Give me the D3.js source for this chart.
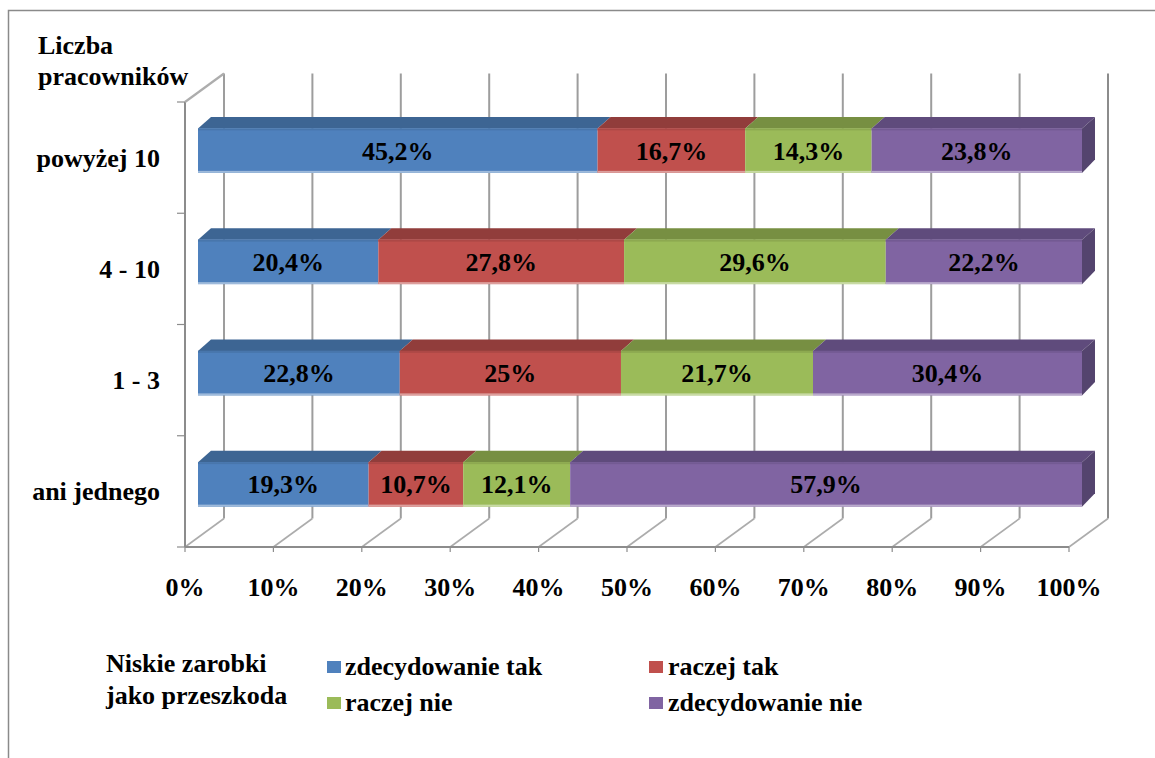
<!DOCTYPE html>
<html>
<head>
<meta charset="utf-8">
<script src="https://cdn.jsdelivr.net/npm/d3@7"></script>
</head>
<body style="margin:0">
<svg id="chart" width="1155" height="758"></svg>
<script>
// ---- data ----
const categories = ["powyżej 10", "4 - 10", "1 - 3", "ani jednego"];
const seriesNames = ["zdecydowanie tak", "raczej tak", "raczej nie", "zdecydowanie nie"];
const zdecydowanieTak = [45.2, 20.4, 22.8, 19.3];
const raczejTak       = [16.7, 27.8, 25,   10.7];
const raczejNie       = [14.3, 29.6, 21.7, 12.1];
const zdecydowanieNie = [23.8, 22.2, 30.4, 57.9];
const xTickValues = [0, 0.1, 0.2, 0.3, 0.4, 0.5, 0.6, 0.7, 0.8, 0.9, 1];
const yAxisTitle = ["Liczba", "pracowników"];
const legendTitle = ["Niskie zarobki", "jako przeszkoda"];

const frontColors = ["#4F81BD", "#C0504D", "#9BBB59", "#8064A2"];
const topColors   = ["#3D6593", "#913D3B", "#778F42", "#5F4B7C"];
const sideColors  = ["#37597F", "#7E3533", "#687D39", "#54446E"];

function styleText(sel) {
  sel.attr("font-family", "Liberation Serif")
     .style("font-family", "Liberation Serif")
     .style("font-weight", "bold")
     .style("font-size", "26px");
}

// ---- build table ----
const table = categories.map((c, i) => ({
  cat: c,
  [seriesNames[0]]: zdecydowanieTak[i],
  [seriesNames[1]]: raczejTak[i],
  [seriesNames[2]]: raczejNie[i],
  [seriesNames[3]]: zdecydowanieNie[i]
}));
const stacked = d3.stack().keys(seriesNames).offset(d3.stackOffsetExpand)(table);

// ---- geometry ----
const svg = d3.select("#chart");
const x = d3.scaleLinear().domain([0, 1]).range([185, 1069]);
const y = d3.scaleBand().domain(categories).range([102, 547]).paddingInner(0.6).paddingOuter(0.3);
const depth = { dx: 39, dy: -28.5 };
const barFront = { dx: 13, dy: -7 };
const barBack  = { dx: 26, dy: -18.5 };
const yTop = y.range()[0], yBot = y.range()[1];
const step = y.step();
const yTicks = d3.range(categories.length + 1).map(i => yTop + i * step);

const fmtVal = v => (Number.isInteger(v) ? String(v) : v.toFixed(1).replace(".", ",")) + "%";

// ---- chart border ----
svg.append("path")
  .attr("d", "M8.5,758 L8.5,10.5 L1155,10.5")
  .attr("fill", "none").attr("stroke", "#8a8a8a").attr("stroke-width", 1.5);

const grid = svg.append("g");

xTickValues.forEach((t, i) => {
  const xb = x(t) + depth.dx;
  const last = i === xTickValues.length - 1;
  grid.append("line")
    .attr("x1", xb).attr("x2", xb)
    .attr("y1", yTop + depth.dy).attr("y2", yBot + depth.dy)
    .attr("stroke", last ? "#8c8c8c" : "#9d9d9d").attr("stroke-width", 2);
  grid.append("line")
    .attr("x1", xb).attr("y1", yBot + depth.dy)
    .attr("x2", x(t)).attr("y2", yBot)
    .attr("stroke", "#acacac").attr("stroke-width", 1.6);
  grid.append("line")
    .attr("x1", x(t)).attr("x2", x(t))
    .attr("y1", yBot).attr("y2", yBot + 5)
    .attr("stroke", "#8c8c8c").attr("stroke-width", 1.2);
});

// left wall
grid.append("line")
  .attr("x1", x(0)).attr("x2", x(0)).attr("y1", yBot).attr("y2", yTop)
  .attr("stroke", "#8c8c8c").attr("stroke-width", 2);
grid.append("line")
  .attr("x1", x(0)).attr("y1", yTop)
  .attr("x2", x(0) + depth.dx).attr("y2", yTop + depth.dy)
  .attr("stroke", "#adadad").attr("stroke-width", 2.2);

// front floor line
grid.append("line")
  .attr("x1", x(0)).attr("x2", x(1))
  .attr("y1", yBot).attr("y2", yBot)
  .attr("stroke", "#8c8c8c").attr("stroke-width", 2);

// y tick marks
yTicks.forEach(v => {
  grid.append("line")
    .attr("x1", x(0) - 8).attr("x2", x(0))
    .attr("y1", v).attr("y2", v)
    .attr("stroke", "#8c8c8c").attr("stroke-width", 1.2);
});

// ---- bars ----
const bars = svg.append("g");
stacked.forEach((layer, si) => {
  layer.forEach((d, ci) => {
    const cat = d.data.cat;
    const y0 = y(cat) + barFront.dy;
    const h = y.bandwidth();
    const x0 = x(d[0]) + barFront.dx, x1 = x(d[1]) + barFront.dx;
    const bx0 = x(d[0]) + barBack.dx, bx1 = x(d[1]) + barBack.dx;
    const by = y(cat) + barBack.dy;
    bars.append("path")
      .attr("d", `M${x0},${y0} L${x1},${y0} L${bx1},${by} L${bx0},${by} Z`)
      .attr("fill", topColors[si]);
    bars.append("rect")
      .attr("x", x0).attr("y", y0).attr("width", x1 - x0).attr("height", h)
      .attr("fill", frontColors[si]);
    bars.append("rect")
      .attr("x", x0).attr("y", y0 + h - 2).attr("width", x1 - x0).attr("height", 2)
      .attr("fill", d3.interpolateRgb(frontColors[si], "#ffffff")(0.45));
    bars.append("rect")
      .attr("x", x0).attr("y", y0).attr("width", x1 - x0).attr("height", 2)
      .attr("fill", d3.interpolateRgb(frontColors[si], topColors[si])(0.4));
    if (si === stacked.length - 1) {
      bars.append("path")
        .attr("d", `M${x1},${y0} L${bx1},${by} L${bx1},${by + h - 2} L${x1},${y0 + h} Z`)
        .attr("fill", sideColors[si]);
    }
    const v = table[ci][seriesNames[si]];
    bars.append("text")
      .attr("x", (x0 + x1) / 2)
      .attr("y", y0 + h / 2 + 9)
      .attr("text-anchor", "middle")
      .call(styleText)
      .text(fmtVal(v));
  });
});

// ---- axis labels ----
const fmtPct = d3.format(".0%");
xTickValues.forEach(t => {
  svg.append("text")
    .attr("x", x(t)).attr("y", 596)
    .attr("text-anchor", "middle")
    .call(styleText)
    .text(fmtPct(t));
});

categories.forEach(c => {
  svg.append("text")
    .attr("x", 160)
    .attr("y", y(c) + y.bandwidth() / 2 + 9)
    .attr("text-anchor", "end")
    .call(styleText)
    .text(c);
});

yAxisTitle.forEach((t, i) => {
  svg.append("text")
    .attr("x", 38).attr("y", 54 + i * 31)
    .call(styleText)
    .text(t);
});

// ---- legend ----
legendTitle.forEach((t, i) => {
  svg.append("text")
    .attr("x", 106).attr("y", 672 + i * 32)
    .call(styleText)
    .text(t);
});

const legendPos = [
  { sx: 327, sy: 661, tx: 345, ty: 675 },
  { sx: 649, sy: 661, tx: 668, ty: 675 },
  { sx: 327, sy: 697, tx: 345, ty: 711 },
  { sx: 649, sy: 697, tx: 668, ty: 711 }
];
seriesNames.forEach((name, i) => {
  const p = legendPos[i];
  svg.append("rect").attr("x", p.sx).attr("y", p.sy).attr("width", 14).attr("height", 12)
    .attr("fill", frontColors[i]);
  svg.append("text").attr("x", p.tx).attr("y", p.ty).call(styleText).text(name);
});
</script>
</body>
</html>
